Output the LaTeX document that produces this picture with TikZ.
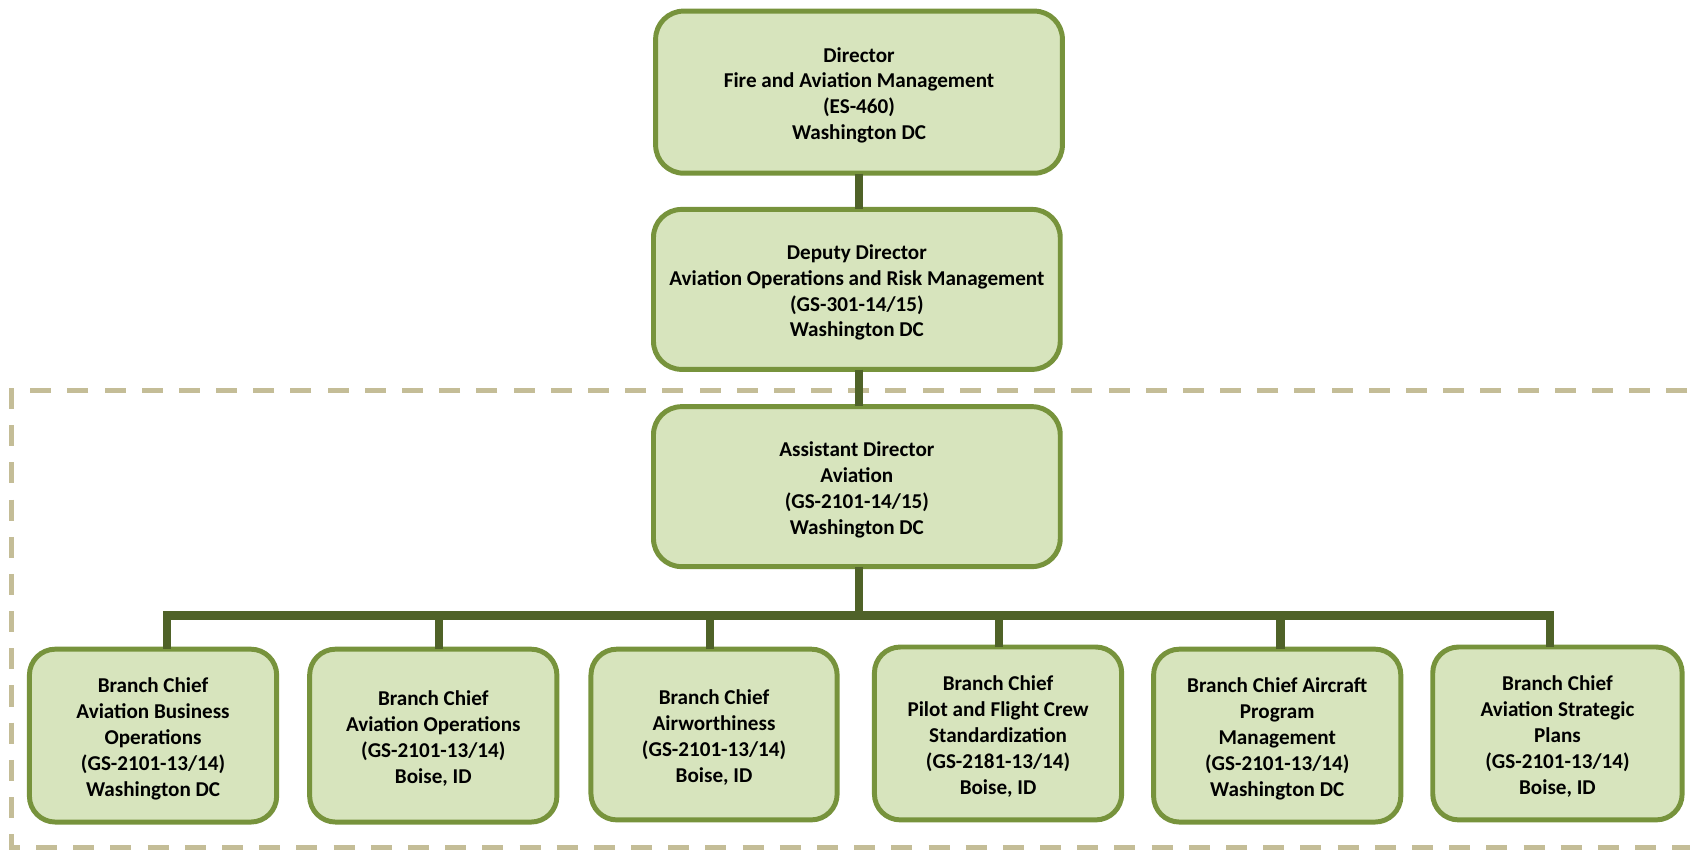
\documentclass[tikz,border=0pt]{standalone}
\usepackage{fontspec}
\setmainfont{Carlito}
\definecolor{boxfill}{HTML}{D7E4BD}
\definecolor{boxline}{HTML}{77933C}
\definecolor{connline}{HTML}{4F6228}
\definecolor{tanline}{HTML}{C4BD97}
\newcommand\tsp{\rule{0pt}{19.5pt}}
\tikzset{
  orgbox/.style={draw=boxline, fill=boxfill, line width=4.6pt, rounded corners=26pt,
    align=center, inner sep=2pt, font=\fontsize{19.6}{24}\selectfont\bfseries},
  bigbox/.style={orgbox, minimum width=377.4pt, minimum height=148.4pt},
  smallbox/.style={orgbox, rounded corners=24pt, minimum width=229.4pt, minimum height=160.4pt},
  conn/.style={draw=connline, line width=7.6pt, line join=miter},
  tanframe/.style={draw=tanline, line width=4.5pt, dash pattern=on 19.5pt off 15pt}
}
\begin{document}
\begin{tikzpicture}[x=1pt, y=-1pt]
\useasboundingbox (0,0) rectangle (1568,788);
% dashed frame (open to the right, extends beyond the picture)
\draw[tanframe] (1600,362) -- (11,362) -- (11,786) -- (1600,786);

\node[bigbox, minimum height=150.4pt] (dir) at (797,85.5) {\tsp Director\\Fire and Aviation Management\\(ES-460)\\Washington DC};
\node[bigbox] (dep) at (795,268.5) {\tsp Deputy Director\\Aviation Operations and Risk Management\\(GS-301-14/15)\\Washington DC};
\node[bigbox] (asst) at (795,451.5) {\tsp Assistant Director\\Aviation\\(GS-2101-14/15)\\Washington DC};

\node[smallbox] (b1) at (142,682.5) {\tsp Branch Chief\\Aviation Business\\Operations\\(GS-2101-13/14)\\Washington DC};
\node[smallbox] (b2) at (402,682.5) {\tsp Branch Chief\\Aviation Operations\\(GS-2101-13/14)\\Boise, ID};
\node[smallbox, minimum height=158.4pt, minimum width=228.4pt] (b3) at (662.5,681.5) {\tsp Branch Chief\\Airworthiness\\(GS-2101-13/14)\\Boise, ID};
\node[smallbox] (b4) at (926,680.5) {\tsp Branch Chief\\Pilot and Flight Crew\\Standardization\\(GS-2181-13/14)\\Boise, ID};
\node[smallbox] (b5) at (1185,682.5) {\tsp Branch Chief Aircraft\\Program\\Management\\(GS-2101-13/14)\\Washington DC};
\node[smallbox, minimum width=231.4pt] (b6) at (1445,680.5) {\tsp Branch Chief\\Aviation Strategic\\Plans\\(GS-2101-13/14)\\Boise, ID};

% bus junctions
\coordinate (j1) at (155,571);
\coordinate (j2) at (407,571);
\coordinate (j3) at (659,571);
\coordinate (j4) at (927,571);
\coordinate (j5) at (1188,571);
\coordinate (j6) at (1438,571);

\draw[conn] ([yshift=2pt]dir.south -| 797,0) -- ([yshift=-2pt]dep.north -| 797,0);
\draw[conn] ([yshift=2pt]dep.south -| 797,0) -- ([yshift=-2pt]asst.north -| 797,0);
\draw[conn] ([yshift=2pt]asst.south -| 797,0) -- (j1 -| 797,0);
\draw[conn] ([yshift=-2pt]j1 |- b1.north) -- (j1) -- (j6) -- ([yshift=-2pt]j6 |- b6.north);
\draw[conn] (j2) -- ([yshift=-2pt]j2 |- b2.north);
\draw[conn] (j3) -- ([yshift=-2pt]j3 |- b3.north);
\draw[conn] (j4) -- ([yshift=-2pt]j4 |- b4.north);
\draw[conn] (j5) -- ([yshift=-2pt]j5 |- b5.north);
\end{tikzpicture}
\end{document}
